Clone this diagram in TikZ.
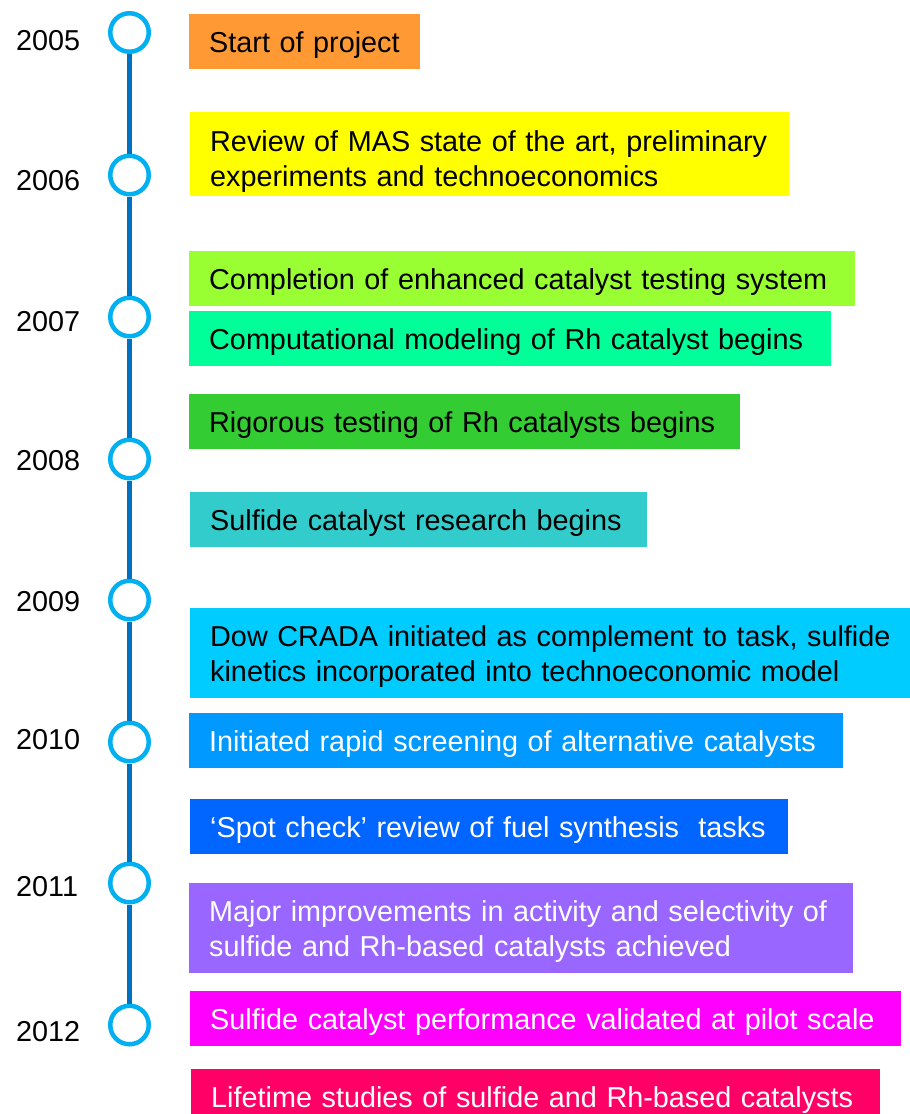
\documentclass[tikz,border=0pt]{standalone}
\usepackage{fontspec}
\setmainfont{Liberation Sans}
\definecolor{lineblue}{HTML}{0070C0}
\definecolor{ringblue}{HTML}{00B0F0}
\definecolor{cOrange}{HTML}{FF9933}
\definecolor{cYellow}{HTML}{FFFF00}
\definecolor{cLime}{HTML}{99FF33}
\definecolor{cSpring}{HTML}{00FF99}
\definecolor{cGreen}{HTML}{33CC33}
\definecolor{cTeal}{HTML}{33CCCC}
\definecolor{cSky}{HTML}{00CCFF}
\definecolor{cBlueA}{HTML}{0099FF}
\definecolor{cBlueB}{HTML}{0066FF}
\definecolor{cPurple}{HTML}{9966FF}
\definecolor{cMagenta}{HTML}{FF00FF}
\definecolor{cRose}{HTML}{FF0066}
\begin{document}
\begin{tikzpicture}[x=1pt,y=-1pt,
  evbox/.style={anchor=north west, inner xsep=20pt, inner ysep=0pt, align=left,
    font=\fontsize{28.8}{35}\selectfont, text height=20.6pt, text depth=0pt},
  twoline/.style={text depth=35pt},
  yearlbl/.style={anchor=west, inner sep=0pt, font=\fontsize{28.8}{35}\selectfont},
  ring/.style={circle, draw=ringblue, line width=4.5pt, fill=white, minimum size=38.5pt, inner sep=0pt},
  spine/.style={draw=lineblue, line width=5.5pt}
]
\useasboundingbox (0,0) rectangle (910,1114);

% rings
\node[ring] (r5) at (129.5,32.5) {};
\node[ring] (r6) at (129.5,175) {};
\node[ring] (r7) at (129.5,317) {};
\node[ring] (r8) at (129.5,459) {};
\node[ring] (r9) at (129.5,600) {};
\node[ring] (r10) at (129.5,742) {};
\node[ring] (r11) at (129.5,883) {};
\node[ring] (r12) at (129.5,1025) {};

% spine
\path[spine] (r5.south) -- (r6.north);
\path[spine] (r6.south) -- (r7.north);
\path[spine] (r7.south) -- (r8.north);
\path[spine] (r8.south) -- (r9.north);
\path[spine] (r9.south) -- (r10.north);
\path[spine] (r10.south) -- (r11.north);
\path[spine] (r11.south) -- (r12.north);

% years
\node[yearlbl] (y5) at (16,41) {2005};
\node[yearlbl] (y6) at (16,181) {2006};
\node[yearlbl] (y7) at (16,322) {2007};
\node[yearlbl] (y8) at (16,461) {2008};
\node[yearlbl] (y9) at (16,602) {2009};
\node[yearlbl] (y10) at (16,740) {2010};
\node[yearlbl] (y11) at (16,887) {2011};
\node[yearlbl] (y12) at (16,1032) {2012};

% event boxes
\node[evbox, fill=cOrange, minimum width=231pt, minimum height=55pt, text width=191pt] (e1) at (189,14) {\mbox{Start of project}};
\node[evbox, twoline, text height=28.6pt, fill=cYellow, minimum width=599pt, minimum height=84pt, text width=559pt] (e2) at (190,112) {\mbox{Review of MAS state of the art, preliminary}\\\mbox{experiments and technoeconomics}};
\node[evbox, fill=cLime, minimum width=666pt, minimum height=55pt, text width=626pt] (e3) at (189,251) {\mbox{Completion of enhanced catalyst testing system}};
\node[evbox, fill=cSpring, minimum width=642pt, minimum height=55pt, text width=602pt] (e4) at (189,311) {\mbox{Computational modeling of Rh catalyst begins}};
\node[evbox, fill=cGreen, minimum width=551pt, minimum height=55pt, text width=511pt] (e5) at (189,394) {\mbox{Rigorous testing of Rh catalysts begins}};
\node[evbox, fill=cTeal, minimum width=457pt, minimum height=55pt, text width=417pt] (e6) at (190,492) {\mbox{Sulfide catalyst research begins}};
\node[evbox, twoline, fill=cSky, minimum width=720pt, minimum height=90pt, text width=680pt] (e7) at (190,608) {\mbox{Dow CRADA initiated as complement to task, sulfide}\\\mbox{kinetics incorporated into technoeconomic model}};
\node[evbox, fill=cBlueA, text=white, minimum width=654pt, minimum height=55pt, text width=614pt] (e8) at (189,713) {\mbox{Initiated rapid screening of alternative catalysts}};
\node[evbox, fill=cBlueB, text=white, minimum width=598pt, minimum height=55pt, text width=558pt] (e9) at (190,799) {\mbox{`Spot check' review of fuel synthesis\ \ tasks}};
\node[evbox, twoline, fill=cPurple, text=white, minimum width=664pt, minimum height=90pt, text width=624pt] (e10) at (189,883) {\mbox{Major improvements in activity and selectivity of}\\\mbox{sulfide and Rh-based catalysts achieved}};
\node[evbox, fill=cMagenta, text=white, minimum width=711pt, minimum height=55pt, text width=671pt] (e11) at (190,991) {\mbox{Sulfide catalyst performance validated at pilot scale}};
\node[evbox, fill=cRose, text=white, minimum width=689pt, minimum height=55pt, text width=649pt] (e12) at (191,1069) {\mbox{Lifetime studies of sulfide and Rh-based catalysts}};
\end{tikzpicture}
\end{document}
